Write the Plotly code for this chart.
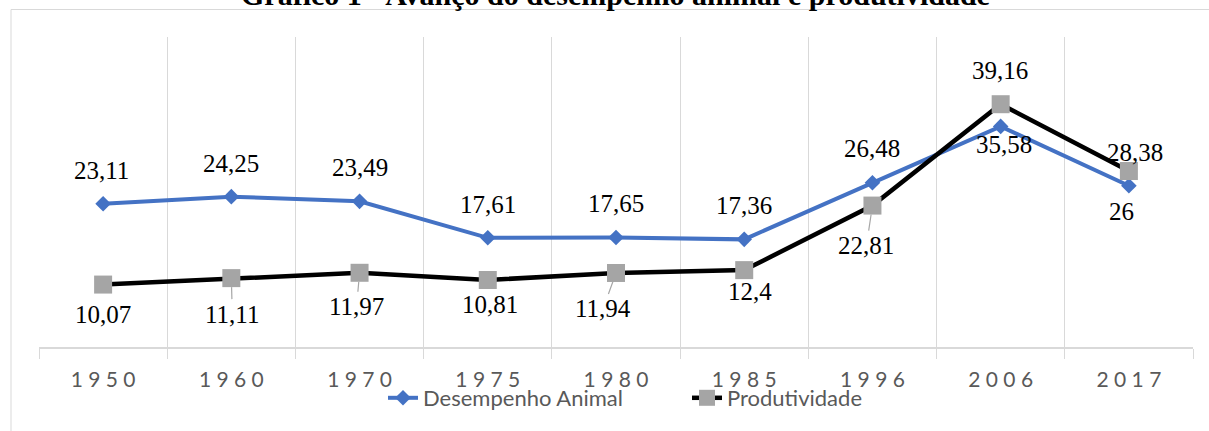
import plotly.graph_objects as go

years = ["1950", "1960", "1970", "1975", "1980", "1985", "1996", "2006", "2017"]
desempenho = [23.11, 24.25, 23.49, 17.61, 17.65, 17.36, 26.48, 35.58, 26]
produtividade = [10.07, 11.11, 11.97, 10.81, 11.94, 12.4, 22.81, 39.16, 28.38]

# label offsets (pixels, dx right, dy down) and leader-line flags -- styling only
desemp_offsets = [(-2, -33), (0, -33), (0, -34), (0, -33), (0, -34), (0, -34), (0, -34), (3, 18), (-7, 26)]
prod_offsets = [(0, 30), (1, 36), (-3, 34), (2, 25), (-13, 36), (6, 21), (-6, 40), (-1, -34), (6, -19)]
prod_leader = [False, True, True, False, True, False, True, False, False]

W, H = 1209, 431
ML, MR, MT, MB = 39, 16, 37, 84
PW, PH = W - ML - MR, H - MT - MB

def px_to_paper_x(px):
    return (px - ML) / PW

def px_to_paper_y(py):
    return (H - MB - py) / PH

def fmt(v):
    return f"{v:g}".replace(".", ",")

SERIF = "Liberation Serif"
SANS = "Lato"
GRID = "#d9d9d9"
TXT = "#595959"

tick_text = [" ".join(list(y)) for y in years]

fig = go.Figure()
fig.add_trace(go.Scatter(
    x=years, y=desempenho, mode="lines+markers", name="Desempenho Animal",
    line=dict(color="#4472C4", width=4),
    marker=dict(symbol="diamond", size=12, color="#4472C4"),
    legend="legend",
))
fig.add_trace(go.Scatter(
    x=years, y=produtividade, mode="lines+markers", name="Produtividade",
    line=dict(color="#000000", width=4.5),
    marker=dict(symbol="square", size=18, color="#A5A5A5"),
    legend="legend2",
))

annotations = []
for i, (v, (dx, dy)) in enumerate(zip(desempenho, desemp_offsets)):
    annotations.append(dict(
        x=i, y=v, xref="x", yref="y", text=fmt(v), showarrow=True,
        ax=dx, ay=dy, arrowcolor="rgba(0,0,0,0)", arrowwidth=1, arrowhead=0,
        font=dict(family=SERIF, size=25, color="#000000"),
    ))
for i, (v, (dx, dy), lead) in enumerate(zip(produtividade, prod_offsets, prod_leader)):
    annotations.append(dict(
        x=i, y=v, xref="x", yref="y", text=fmt(v), showarrow=True,
        ax=dx, ay=dy, arrowcolor="#A6A6A6" if lead else "rgba(0,0,0,0)",
        arrowwidth=1.2, arrowhead=0, standoff=9,
        font=dict(family=SERIF, size=25, color="#000000"),
    ))

annotations.append(dict(
    x=px_to_paper_x(615), y=px_to_paper_y(-5), xref="paper", yref="paper",
    xanchor="center", yanchor="middle", showarrow=False,
    text="<b>Gráfico 1 - Avanço do desempenho animal e produtividade</b>",
    font=dict(family=SERIF, size=30, color="#000000"),
))

legend_style = dict(
    orientation="h", xanchor="left", yanchor="middle",
    y=px_to_paper_y(398),
    font=dict(family=SANS, size=22, color=TXT),
    bgcolor="rgba(0,0,0,0)",
)

fig.update_layout(
    width=W, height=H,
    margin=dict(l=ML, r=MR, t=MT, b=MB, pad=0),
    paper_bgcolor="white", plot_bgcolor="white",
    showlegend=True,
    legend=dict(legend_style, x=px_to_paper_x(383)),
    legend2=dict(legend_style, x=px_to_paper_x(687)),
    xaxis=dict(
        type="category", tickmode="array", tickvals=years, ticktext=tick_text,
        tickson="boundaries", range=[-0.5, len(years) - 0.5],
        showgrid=True, gridcolor=GRID, gridwidth=1,
        showline=True, linecolor=GRID, linewidth=1.5,
        ticks="outside", ticklen=10, tickcolor=GRID, tickwidth=1,
        tickfont=dict(family=SANS, size=21, color=TXT),
        ticklabelstandoff=13,
        zeroline=False, fixedrange=True,
    ),
    yaxis=dict(
        range=[0, 50], showgrid=False, zeroline=False, showline=False,
        showticklabels=False, ticks="", fixedrange=True,
    ),
    annotations=annotations,
    shapes=[dict(
        type="rect", xref="paper", yref="paper",
        x0=px_to_paper_x(11), x1=px_to_paper_x(1300),
        y0=px_to_paper_y(500), y1=px_to_paper_y(9.5),
        line=dict(color=GRID, width=1), fillcolor="rgba(0,0,0,0)", layer="below",
    )],
)

fig.write_html("out.html")
